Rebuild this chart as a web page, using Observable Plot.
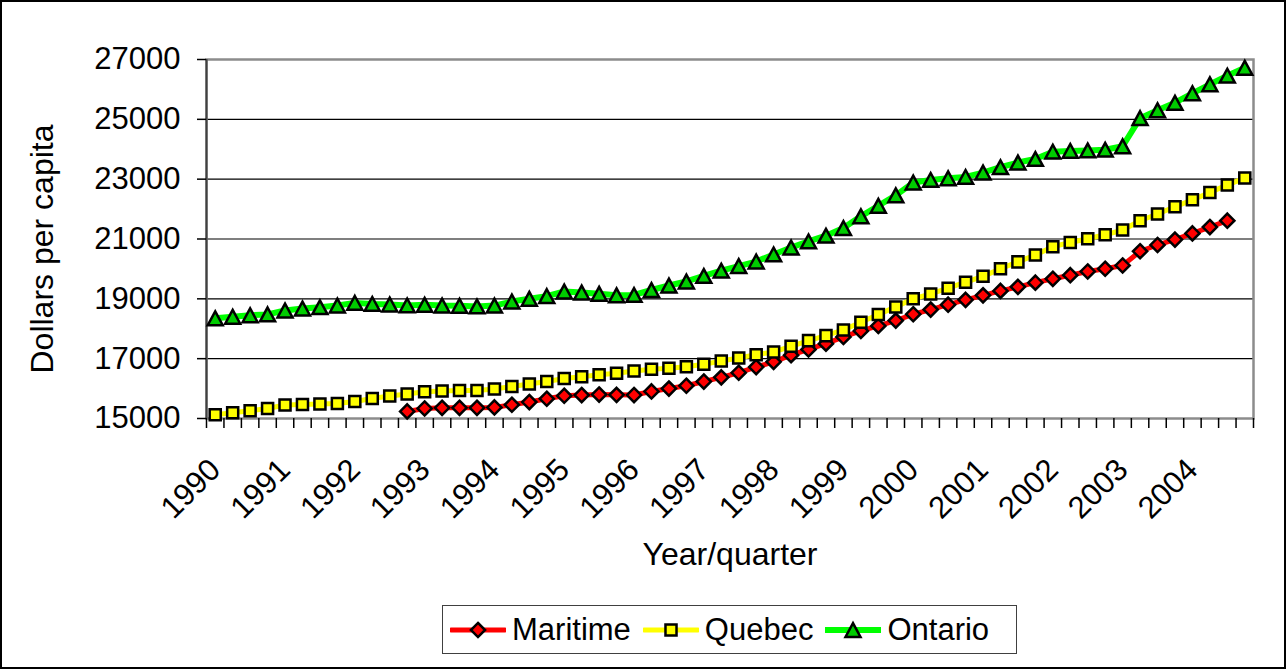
<!DOCTYPE html>
<html><head><meta charset="utf-8">
<script src="https://cdn.jsdelivr.net/npm/d3@7"></script>
<script src="https://cdn.jsdelivr.net/npm/@observablehq/plot@0.6"></script>
<style>
html,body{margin:0;padding:0;background:#fff;}
#wrap{position:relative;width:1286px;height:669px;overflow:hidden;font-family:"Liberation Sans",Arial,sans-serif;}
#border{position:absolute;left:0;top:0;width:1286px;height:669px;box-sizing:border-box;border:2px solid #000;pointer-events:none;}
#chart{position:absolute;left:0;top:0;}
#legend{position:absolute;left:442px;top:605px;width:575px;height:49px;box-sizing:border-box;border:1.5px solid #404040;display:flex;align-items:center;padding-left:7px;font-size:31px;color:#000;}
.item{display:flex;align-items:center;margin-right:12px;}
.item svg{margin-right:6px;}
</style></head><body>
<div id="wrap"><div id="chart"></div><div id="legend"></div><div id="border"></div></div>
<script>
// Categories: quarterly, 1990 Q1 .. 2004 Q4 (60 periods)
const years = ["1990","1991","1992","1993","1994","1995","1996","1997","1998","1999","2000","2001","2002","2003","2004"];
const quarters = ["Q1","Q2","Q3","Q4"];
const periods = years.flatMap(y => quarters.map(q => y + q));
const yTicks = [15000, 17000, 19000, 21000, 23000, 25000, 27000];

const maritime = [null,null,null,null,null,null,null,null,null,null,null,
  15235,15335,15358,15358,15358,15369,15459,15550,15660,15760,15784,15800,15790,
  15784,15904,16000,16095,16235,16375,16530,16720,16893,17117,17308,17502,
  17725,17927,18095,18273,18485,18641,18804,18966,19117,19266,19400,19540,
  19670,19790,19914,20005,20115,20590,20800,20980,21188,21399,21612,null];
const quebec = [15124,15190,15258,15335,15450,15470,15482,15502,15570,15670,15750,15817,
  15894,15918,15938,15938,15985,16072,16152,16240,16340,16397,16460,16515,
  16585,16645,16680,16732,16810,16920,17023,17134,17224,17412,17603,17770,
  17961,18216,18474,18730,19000,19165,19355,19556,19752,20005,20235,20465,
  20740,20885,21010,21140,21300,21610,21835,22080,22310,22555,22808,23037];
const ontario = [18350,18400,18450,18480,18610,18675,18720,18775,18865,18830,18810,18780,
  18800,18775,18765,18745,18775,18910,19000,19090,19245,19210,19170,19120,
  19130,19295,19445,19580,19765,19940,20095,20245,20485,20715,20920,21110,
  21365,21757,22110,22460,22885,22975,23030,23075,23220,23400,23555,23675,
  23920,23945,23960,23985,24100,25040,25300,25555,25870,26170,26460,26725];

// Excel-like marker shapes (centered on their bounding box)
const symDiamond = {draw(c, size){ const r = Math.sqrt(size/Math.PI), h = r*1.18; c.moveTo(0,-h); c.lineTo(h,0); c.lineTo(0,h); c.lineTo(-h,0); c.closePath(); }};
const symSquare = {draw(c, size){ const r = Math.sqrt(size/Math.PI), h = r*0.92; c.moveTo(-h,-h); c.lineTo(h,-h); c.lineTo(h,h); c.lineTo(-h,h); c.closePath(); }};
const symTriangle = {draw(c, size){ const r = Math.sqrt(size/Math.PI), h = r*1.15, b = r*1.25; c.moveTo(0,-h); c.lineTo(b,h); c.lineTo(-b,h); c.closePath(); }};

const series = [
  {name: "Maritime", values: maritime, line: "#ff0000", fill: "#ff0000", symbol: symDiamond, width: 5},
  {name: "Quebec", values: quebec, line: "#ffff00", fill: "#ffff00", symbol: symSquare, width: 5},
  {name: "Ontario", values: ontario, line: "#00ff00", fill: "#00cc00", symbol: symTriangle, width: 6}
];
const R = 6;

const font = "Liberation Sans, Arial, sans-serif";
const boundaries = d3.range(periods.length + 1).map(k => k - 0.5);
const yearTicks = years.map((y, k) => k * 4);

const marks = [
  Plot.gridY(yTicks.slice(1, -1), {stroke: "#000", strokeOpacity: 1, strokeWidth: 1.2}),
  Plot.frame({stroke: "#8c8c8c", strokeWidth: 2.5}),
  Plot.ruleX([-0.5], {stroke: "#404040", strokeWidth: 2}),
  Plot.axisY(yTicks, {tickSize: 9, tickPadding: 17, tickFormat: d => String(d), label: null, fontSize: 31, strokeWidth: 1.5}),
  Plot.axisX(boundaries, {tickSize: 10, tickFormat: () => "", label: null, strokeWidth: 1.5}),
  Plot.axisX(yearTicks, {tickSize: 0, tickPadding: 46, tickRotate: -45, tickFormat: i => years[i / 4], label: null, fontSize: 31}),
  Plot.text(["Year/quarter"], {text: d => d, frameAnchor: "bottom", dy: 146, fontSize: 32}),
  Plot.text(["Dollars per capita"], {text: d => d, frameAnchor: "left", textAnchor: "middle", rotate: -90, dx: -164, dy: 10, fontSize: 32})
];
for (const s of series) {
  const data = s.values.map((v, i) => ({i, v, period: periods[i]}));
  marks.push(Plot.line(data, {x: "i", y: "v", stroke: s.line, strokeWidth: s.width, defined: d => d.v != null}));
  marks.push(Plot.dot(data.filter(d => d.v != null), {x: "i", y: "v", symbol: () => s.symbol, r: R, fill: s.fill, stroke: "#000", strokeWidth: 2.5}));
}

const chart = Plot.plot({
  width: 1286, height: 600,
  marginLeft: 206, marginRight: 33, marginTop: 59, marginBottom: 182,
  style: {fontFamily: font, fontSize: "31px", color: "#000", background: "transparent", overflow: "visible"},
  x: {type: "linear", domain: [-0.5, periods.length - 0.5]},
  y: {domain: [yTicks[0], yTicks[yTicks.length - 1]]},
  symbol: {type: "identity"},
  marks
});
document.getElementById("chart").appendChild(chart);

// Legend built from the series definitions
const legend = document.getElementById("legend");
for (const s of series) {
  const item = document.createElement("div");
  item.className = "item";
  const sw = d3.create("svg").attr("width", 56).attr("height", 24);
  sw.append("line").attr("x1", 1).attr("x2", 55).attr("y1", 12).attr("y2", 12).attr("stroke", s.line).attr("stroke-width", s.width).attr("stroke-linecap", "round");
  sw.append("path").attr("transform", "translate(28,12)").attr("d", d3.symbol(s.symbol, Math.PI * R * R)()).attr("fill", s.fill).attr("stroke", "#000").attr("stroke-width", 2.5);
  item.appendChild(sw.node());
  const t = document.createElement("span");
  t.textContent = s.name;
  item.appendChild(t);
  legend.appendChild(item);
}
</script>
</body></html>
